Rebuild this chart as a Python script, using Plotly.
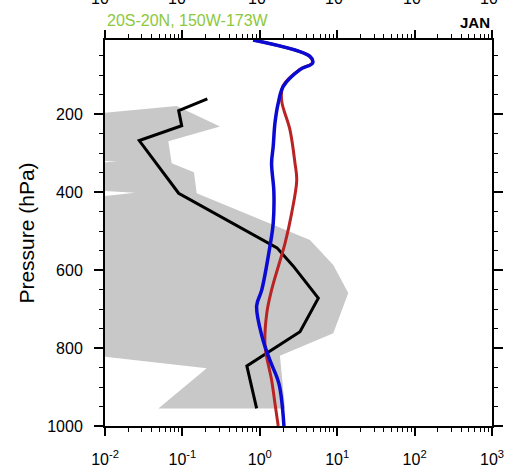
import math
import plotly.graph_objects as go

# ---------------- data ----------------
# Observed (black) profile
obs_p = [161, 191, 230, 268, 403, 543, 590, 672, 758, 846, 955]
obs_v = [0.21, 0.0895, 0.098, 0.0277, 0.0895, 1.67, 2.71, 5.7, 3.31, 0.68, 0.91]

# Shaded range: right (max) edge from top to bottom
shade_max_p = [179, 232, 270, 326, 349, 403, 523, 587, 659, 762, 820, 955]
shade_max_v = [0.0843, 0.306, 0.0658, 0.0727, 0.141, 0.153, 4.45, 8.9, 13.9, 8.9, 1.82, 2.12]
# left (min) edge from bottom to top
shade_min_p = [955, 852, 800, 430, 402, 385, 335, 322, 310, 215]
shade_min_v = [0.0489, 0.206, 0.001, 0.001, 0.0244, 0.001, 0.001, 0.0143, 0.001, 0.001]

# Model 1 (red)
red_p = [10, 52, 69, 86, 129, 167, 240, 326, 369, 454, 531, 651, 711, 796, 882, 942, 1000]
red_v = [0.82, 4.4, 4.75, 3.25, 1.98, 1.92, 2.45, 2.85, 3.0, 2.58, 2.12, 1.42, 1.23, 1.17, 1.42, 1.57, 1.73]

# Model 2 (blue)
blue_p = [10, 52, 69, 86, 129, 172, 223, 283, 326, 399, 480, 540, 651, 692, 774, 831, 892, 1000]
blue_v = [0.82, 4.45, 4.82, 3.31, 2.01, 1.73, 1.57, 1.49, 1.42, 1.52, 1.49, 1.35, 1.06, 0.91, 1.08, 1.35, 1.77, 2.05]

x_tickvals = [0.01, 0.1, 1, 10, 100, 1000]
x_ticktext = ["10<sup>-2</sup>", "10<sup>-1</sup>", "10<sup>0</sup>",
              "10<sup>1</sup>", "10<sup>2</sup>", "10<sup>3</sup>"]
y_tickvals = [200, 400, 600, 800, 1000]
y_ticktext = ["200", "400", "600", "800", "1000"]

title_left = "20S-20N, 150W-173W"
title_right = "JAN"
y_title = "Pressure (hPa)"

# ---------------- figure ----------------
minor_x = [m * 10 ** e for e in range(-2, 3) for m in range(2, 10)]
font = "Liberation Sans, Arial, sans-serif"

fig = go.Figure()
fig.add_trace(go.Scatter(
    x=shade_max_v + shade_min_v, y=shade_max_p + shade_min_p,
    fill="toself", fillcolor="rgb(200,200,200)", line=dict(width=0),
    mode="lines", hoverinfo="skip", showlegend=False))
fig.add_trace(go.Scatter(x=obs_v, y=obs_p, mode="lines",
                         line=dict(color="black", width=3), showlegend=False))
fig.add_trace(go.Scatter(x=red_v, y=red_p, mode="lines",
                         line=dict(color="rgb(185,35,35)", width=3, shape="spline"),
                         showlegend=False))
fig.add_trace(go.Scatter(x=blue_v, y=blue_p, mode="lines",
                         line=dict(color="rgb(10,10,210)", width=3.5, shape="spline"),
                         showlegend=False))

axis_common = dict(showline=True, linewidth=2, linecolor="black", mirror="ticks",
                   showgrid=False, zeroline=False, automargin=False)

fig.update_layout(
    width=508, height=468,
    margin=dict(l=105, r=16, t=40, b=42),
    paper_bgcolor="white", plot_bgcolor="white",
    font=dict(family=font, size=16, color="black"),
    xaxis=dict(type="log", range=[-2, 3], tickmode="array",
               tickvals=x_tickvals, ticktext=x_ticktext,
               ticks="outside", ticklen=8, tickwidth=1.5, tickcolor="black",
               minor=dict(ticks="outside", ticklen=4, tickwidth=1, tickcolor="black",
                          tickmode="array", tickvals=minor_x, showgrid=False),
               ticklabelstandoff=10, **axis_common),
    yaxis=dict(range=[1000, 10], tickmode="array",
               tickvals=y_tickvals, ticktext=y_ticktext,
               ticks="outside", ticklen=9, tickwidth=1.5, tickcolor="black",
               minor=dict(ticks="outside", ticklen=4, tickwidth=1, tickcolor="black",
                          dtick=50, tick0=0, showgrid=False),
               ticklabelstandoff=8,
               title=dict(text=y_title, font=dict(size=21), standoff=7),
               **axis_common),
)

fig.add_annotation(text=title_left, xref="paper", yref="paper", x=0, y=1.0,
                   xanchor="left", yanchor="bottom", yshift=9, showarrow=False,
                   font=dict(size=16, color="rgb(140,200,60)", family=font))
fig.add_annotation(text="<b>" + title_right + "</b>", xref="paper", yref="paper",
                   x=1, y=1.0, xanchor="right", yanchor="bottom", yshift=7,
                   showarrow=False, font=dict(size=15, color="black", family=font))
# cut-off tick labels of the panel above
for v, t in zip(x_tickvals, x_ticktext):
    fig.add_annotation(text=t, xref="x", yref="paper", x=math.log10(v), y=1.0,
                       xanchor="center", yanchor="bottom", yshift=31,
                       showarrow=False, font=dict(size=16, color="black", family=font))

fig.write_html("out.html", config={"displayModeBar": False},
               post_script="document.body.style.margin='0';document.body.style.overflow='hidden';")
